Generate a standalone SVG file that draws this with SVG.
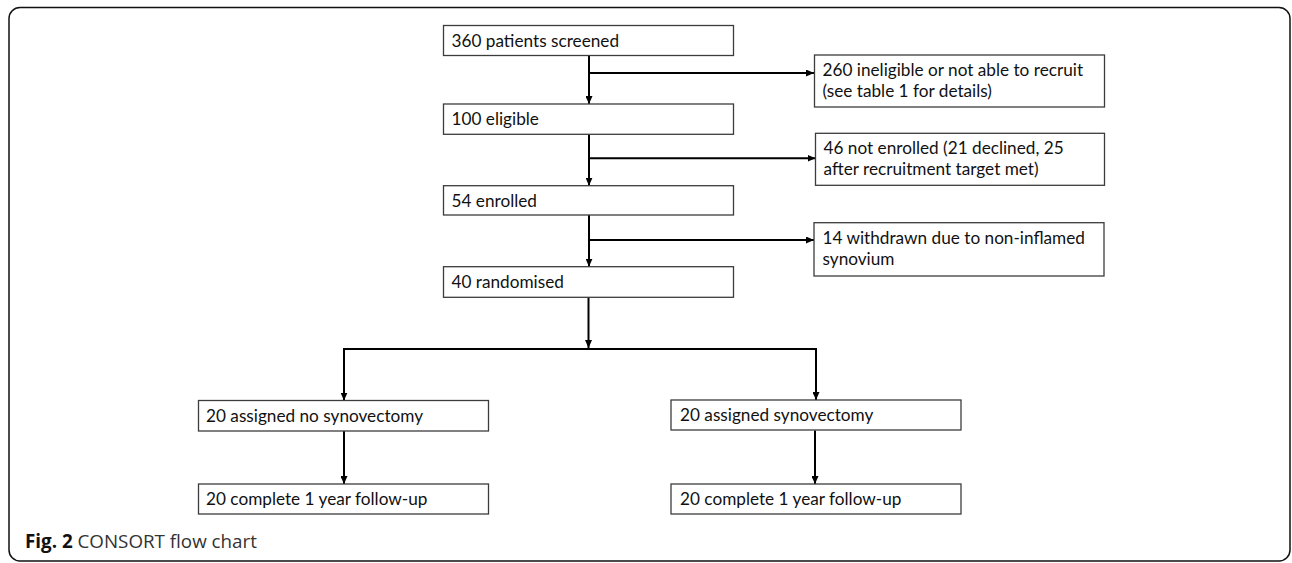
<svg xmlns="http://www.w3.org/2000/svg" width="1292" height="563" viewBox="0 0 1292 563">
<style>
.box{fill:#ffffff;stroke:#3c3c3c;stroke-width:1.3}
.t{font-family:Lato,"Liberation Sans",sans-serif;font-size:17.2px;fill:#111111}
.c{stroke:#000000;stroke-width:2;fill:none}
.cap{font-family:"Open Sans","Liberation Sans",sans-serif;font-size:18.8px;fill:#333333}
</style>
<defs>
<marker id="ah" markerUnits="userSpaceOnUse" markerWidth="8" markerHeight="7" refX="8" refY="3.5" orient="auto">
<path d="M0,0 L8,3.5 L0,7 z" fill="#000000"/>
</marker>
</defs>
<rect x="9" y="7.5" width="1281" height="553.5" rx="11" ry="11" fill="#ffffff" stroke="#111111" stroke-width="1.5"/>
<g id="connectors">
<path class="c" d="M589,56 V104" marker-end="url(#ah)"/>
<path class="c" d="M589,73 H814" marker-end="url(#ah)"/>
<path class="c" d="M589,134.5 V185.7" marker-end="url(#ah)"/>
<path class="c" d="M589,158.3 H815.5" marker-end="url(#ah)"/>
<path class="c" d="M589,215 V266.7" marker-end="url(#ah)"/>
<path class="c" d="M589,240 H814" marker-end="url(#ah)"/>
<path class="c" d="M588.5,297.5 V348" marker-end="url(#ah)"/>
<path class="c" d="M343,349 H817"/>
<path class="c" d="M344,348 V400.5" marker-end="url(#ah)"/>
<path class="c" d="M816,348 V400" marker-end="url(#ah)"/>
<path class="c" d="M344,431 V484" marker-end="url(#ah)"/>
<path class="c" d="M815,430.5 V484" marker-end="url(#ah)"/>
</g>
<g id="n-screened">
<rect class="box" x="443.5" y="25.5" width="290" height="30"/>
<text class="t" x="451.5" y="46.5">360 patients screened</text>
</g>
<g id="n-ineligible">
<rect class="box" x="814.5" y="55" width="290" height="52"/>
<text class="t" x="822.5" y="75.5">260 ineligible or not able to recruit</text>
<text class="t" x="822.5" y="96.5">(see table 1 for details)</text>
</g>
<g id="n-eligible">
<rect class="box" x="443.5" y="104" width="290" height="30.3"/>
<text class="t" x="451.5" y="125">100 eligible</text>
</g>
<g id="n-notenrolled">
<rect class="box" x="815.5" y="133.3" width="289" height="52"/>
<text class="t" x="823.5" y="154">46 not enrolled (21 declined, 25</text>
<text class="t" x="823.5" y="175">after recruitment target met)</text>
</g>
<g id="n-enrolled">
<rect class="box" x="443.5" y="185.7" width="290" height="29.3"/>
<text class="t" x="451.5" y="206.5">54 enrolled</text>
</g>
<g id="n-withdrawn">
<rect class="box" x="814" y="222.7" width="290" height="53.3"/>
<text class="t" x="822.5" y="243.5">14 withdrawn due to non-inflamed</text>
<text class="t" x="822.5" y="264.5">synovium</text>
</g>
<g id="n-randomised">
<rect class="box" x="443.5" y="266.7" width="290" height="30.6"/>
<text class="t" x="451.5" y="288">40 randomised</text>
</g>
<g id="n-nosyn">
<rect class="box" x="198.5" y="400.5" width="290" height="30.5"/>
<text class="t" x="206" y="421.5">20 assigned no synovectomy</text>
</g>
<g id="n-syn">
<rect class="box" x="671" y="400" width="290" height="30"/>
<text class="t" x="680" y="421">20 assigned synovectomy</text>
</g>
<g id="n-fu-left">
<rect class="box" x="198.5" y="484" width="290" height="30"/>
<text class="t" x="206" y="505">20 complete 1 year follow-up</text>
</g>
<g id="n-fu-right">
<rect class="box" x="671" y="484" width="290" height="30"/>
<text class="t" x="680" y="505">20 complete 1 year follow-up</text>
</g>
<text class="cap" x="25" y="548"><tspan font-weight="bold" fill="#111111">Fig. 2</tspan> CONSORT flow chart</text>
</svg>
